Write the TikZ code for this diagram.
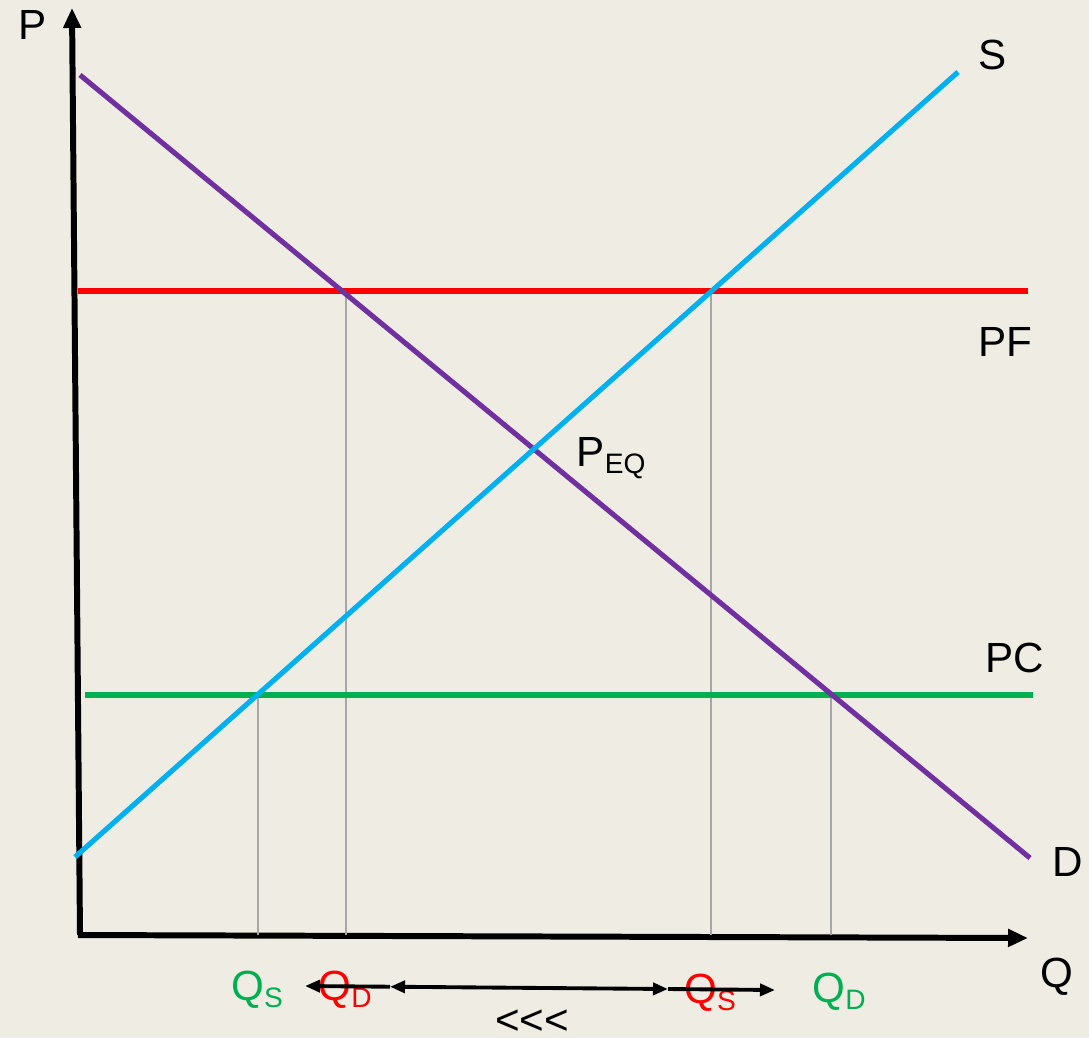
\documentclass[tikz,border=0pt]{standalone}
\usepackage{fontspec}
\setmainfont{Liberation Sans}
\usetikzlibrary{arrows.meta}
\definecolor{bgcream}{RGB}{239,236,228}
\definecolor{dempurple}{RGB}{112,48,160}
\definecolor{supblue}{RGB}{0,176,240}
\definecolor{floorgreen}{RGB}{0,176,80}
\tikzset{
  curve/.style={line width=1.45pt},
  axis/.style={line width=1.7pt, -{Triangle[length=0.2cm,width=0.17cm]}},
  guide/.style={gray!70, line width=0.4pt},
  moveline/.style={line width=1.1pt, -{Triangle[length=0.15cm,width=0.12cm]}},
  lbl/.style={font=\fontsize{12}{14}\selectfont, inner sep=0pt}
}
\newcommand{\sub}[2]{#1\textsubscript{#2}}
\begin{document}
\begin{tikzpicture}
    \fill[bgcream] (0,0) rectangle (10.89,10.38);
    \useasboundingbox (0,0) rectangle (10.89,10.38);

    % axes
    \coordinate (orig) at (0.80,1.03);
    \coordinate (ptop) at (0.72,10.30);
    \coordinate (qend) at (10.28,1.00);
    \draw[axis] (orig) -- (ptop);
    \draw[axis] (0.78,1.03) -- (qend);
    \node[lbl] (plbl) at (0.33,10.13) {P};
    \node[lbl] (qlbl) at (10.57,0.61) {Q};

    % guide lines down to the Q axis
    \draw[guide] (2.58,3.43) -- (2.58,1.03);
    \draw[guide] (3.46,7.47) -- (3.46,1.03);
    \draw[guide] (7.11,7.47) -- (7.11,1.03);
    \draw[guide] (8.31,3.43) -- (8.31,1.03);

    % price ceiling and price floor
    \draw[curve, red] (0.78,7.47) -- (10.28,7.47);
    \node[lbl] (pf) at (10.05,6.96) {PF};
    \draw[curve, floorgreen] (0.85,3.43) -- (10.33,3.43);
    \node[lbl] (pc) at (10.15,3.80) {PC};

    % demand and supply
    \draw[curve, dempurple] (0.80,9.63) -- (10.30,1.80);
    \node[lbl] (dlbl) at (10.68,1.76) {D};
    \draw[curve, supblue] (0.75,1.81) -- (9.58,9.66);
    \node[lbl] (slbl) at (9.93,9.83) {S};
    \node[lbl] (peq) at (6.12,5.80) {\sub{P}{EQ}};

    % quantities
    \node[lbl, floorgreen] (qs1) at (2.58,0.48) {\sub{Q}{S}};
    \node[lbl, red] (qd1) at (3.46,0.48) {\sub{Q}{D}};
    \node[lbl, red] (qs2) at (7.11,0.45) {\sub{Q}{S}};
    \node[lbl, floorgreen] (qd2) at (8.40,0.46) {\sub{Q}{D}};

    \coordinate (a1) at (3.05,0.52);
    \coordinate (a2) at (3.90,0.513);
    \coordinate (a3) at (6.68,0.49);
    \coordinate (a4) at (7.75,0.48);
    \draw[moveline] (a2) -- (a1);
    \draw[moveline] (a3) -- (a4);
    \draw[moveline, {Triangle[length=0.15cm,width=0.12cm]}-{Triangle[length=0.15cm,width=0.12cm]}] (a2) -- (a3);
    \node[lbl] (dir) at (5.32,0.16) {<\kern0pt<\kern0pt<};
\end{tikzpicture}
\end{document}
